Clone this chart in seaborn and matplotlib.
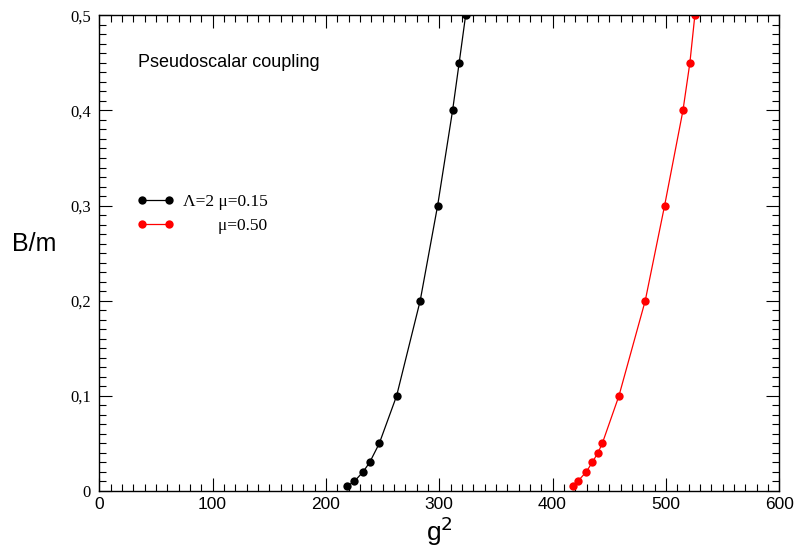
import matplotlib
matplotlib.use("Agg")
import matplotlib.pyplot as plt
from matplotlib.ticker import MultipleLocator, FuncFormatter
import seaborn as sns
import pandas as pd

# Data
b_black = [0.005, 0.01, 0.02, 0.03, 0.05, 0.1, 0.2, 0.3, 0.4, 0.45, 0.5]
g2_black = [218.6, 225.0, 232.7, 238.6, 247.1, 262.4, 283.2, 298.6, 311.8, 317.6, 323.3]
b_red = [0.005, 0.01, 0.02, 0.03, 0.04, 0.05, 0.1, 0.2, 0.3, 0.4, 0.45, 0.5]
g2_red = [417.7, 422.1, 429.7, 435.0, 440.0, 443.9, 458.6, 481.8, 498.9, 515.1, 521.2, 525.6]
labels = ["\u039b=2 \u03bc=0.15", "        \u03bc=0.50"]
colors = ["black", "red"]
x_ticks = [0, 100, 200, 300, 400, 500, 600]
y_ticks = [0, 0.1, 0.2, 0.3, 0.4, 0.5]

df = pd.concat([
    pd.DataFrame({"g2": g2_black, "B": b_black, "series": labels[0]}),
    pd.DataFrame({"g2": g2_red, "B": b_red, "series": labels[1]}),
])

sns.set_style("ticks")
plt.rcParams["font.family"] = ["Liberation Sans", "DejaVu Sans"]
plt.rcParams["text.color"] = "black"
plt.rcParams["axes.labelcolor"] = "black"
plt.rcParams["xtick.color"] = "black"
plt.rcParams["ytick.color"] = "black"

fig = plt.figure(figsize=(7.98, 5.56), dpi=100)
ax = fig.add_axes([0.1244, 0.1169, 0.852, 0.8556])

sns.lineplot(data=df, x="g2", y="B", hue="series", palette=colors,
             sort=False, estimator=None, marker="o", markersize=6,
             markeredgewidth=0, linewidth=0.9, ax=ax, legend=False)

ax.set_xlim(0, 600)
ax.set_ylim(0, 0.5)
ax.set_xticks(x_ticks)
ax.set_yticks(y_ticks)
ax.xaxis.set_minor_locator(MultipleLocator(10))
ax.yaxis.set_minor_locator(MultipleLocator(0.01))
ax.yaxis.set_major_formatter(FuncFormatter(
    lambda v, p: "0" if abs(v) < 1e-9 else f"{v:.1f}".replace(".", ",")))
ax.tick_params(which="both", direction="in", top=True, right=True, color="black")
ax.tick_params(which="major", length=9.5, width=0.8)
ax.tick_params(which="minor", length=4.7, width=0.8)
ax.tick_params(axis="x", labelsize=12.5, pad=4, labelcolor="black")
ax.tick_params(axis="y", pad=6, labelcolor="black")
for lab in ax.get_yticklabels():
    lab.set_fontfamily("Liberation Serif")
    lab.set_fontsize(12)
for s in ax.spines.values():
    s.set_linewidth(1.0)
    s.set_color("black")

ax.set_xlabel("g$^2$", fontsize=19, labelpad=2, color="black")
ax.set_ylabel("B/m", fontsize=18, rotation=0, labelpad=22, color="black")
ax.yaxis.set_label_coords(-0.095, 0.495)

ax.text(0.057, 0.9, "Pseudoscalar coupling", transform=ax.transAxes,
        fontsize=13, va="center", ha="left", color="black")

handles = [plt.Line2D([], [], color=c, marker="o", markersize=6,
                      markeredgewidth=0, linewidth=0.9) for c in colors]
leg = ax.legend(handles, labels, loc="upper left", bbox_to_anchor=(0.055, 0.625),
                frameon=False, handlelength=2.15, handletextpad=0.5,
                labelspacing=0.45, borderpad=0, borderaxespad=0,
                prop={"family": "Liberation Serif", "size": 12.5},
                markerfirst=True, numpoints=2)
for t in leg.get_texts():
    t.set_color("black")

fig.savefig("out.png", dpi=100)
